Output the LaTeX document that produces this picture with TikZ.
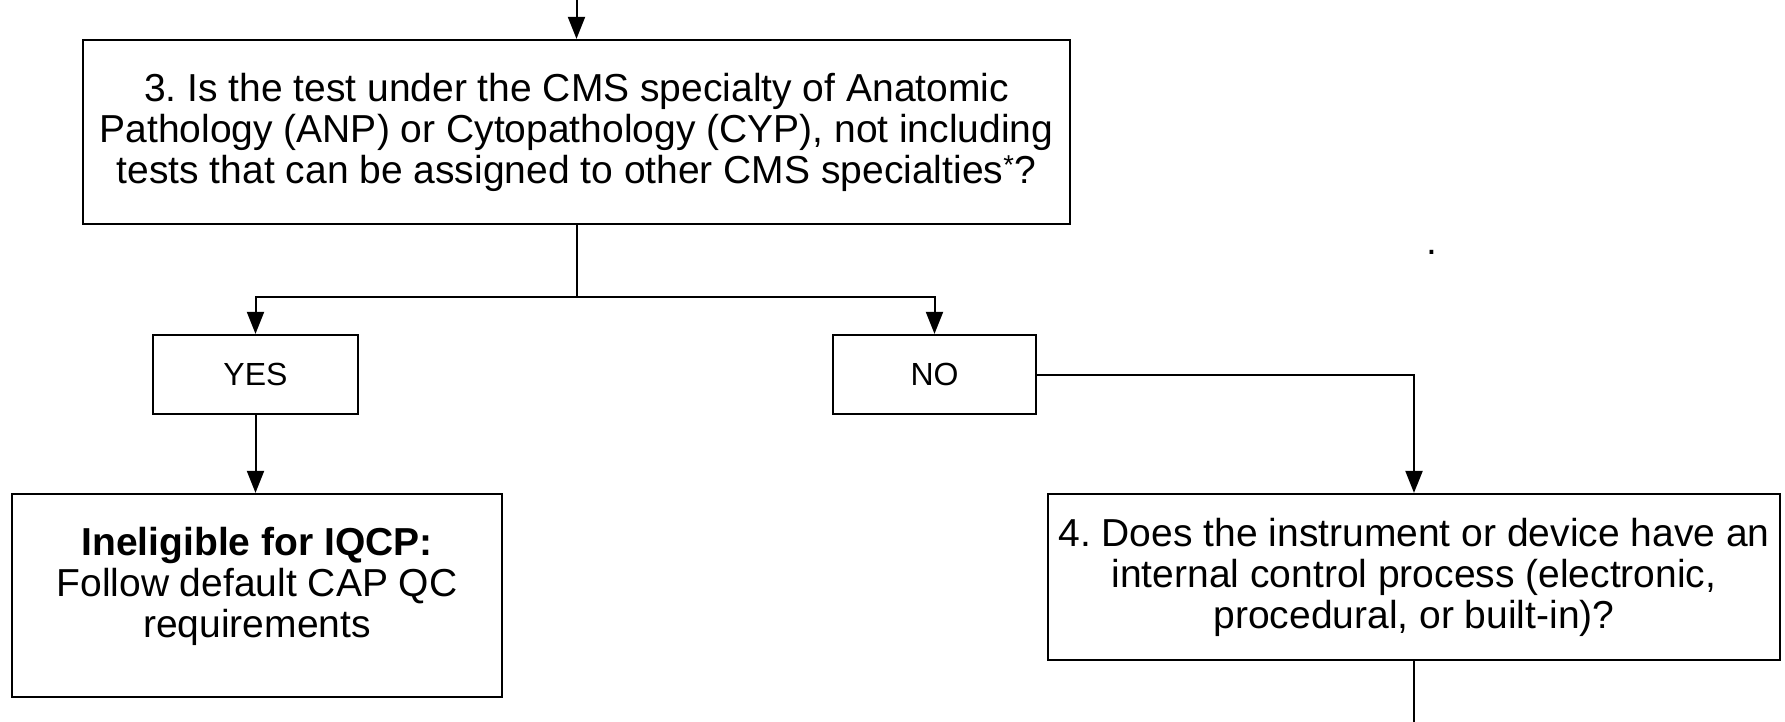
\documentclass[tikz,border=0pt]{standalone}
\usepackage{fontspec}
\setmainfont{Liberation Sans}
\frenchspacing
\usetikzlibrary{arrows.meta}
\tikzstyle{qBox} = [rectangle, draw, line width=2.2pt, align=center, inner sep=0pt, font=\fontsize{39}{41}\selectfont]
\tikzstyle{ansBox} = [rectangle, draw, line width=2.2pt, align=center, inner sep=0pt, minimum height=79pt, font=\fontsize{32}{38}\selectfont]
\tikzstyle{flow} = [line width=2pt, -{Triangle[length=22pt,width=17pt]}]
\tikzstyle{plain} = [line width=2pt]

\begin{document}
\begin{tikzpicture}[x=1pt,y=-1pt]
		\useasboundingbox (0,0) rectangle (1785,722);
		% question 3 and its answers
		\node [qBox,minimum width=987pt,minimum height=184pt](q3) at (576.5,132) {3. Is the test under the CMS specialty of Anatomic\\Pathology (ANP) or Cytopathology (CYP), not including\\tests that can be assigned to other CMS specialties\textsuperscript{*}?};
		\node [ansBox,minimum width=205pt](yes) at (255.5,374.5) {YES};
		\node [ansBox,minimum width=203pt](no) at (934.5,374.5) {NO};
		\node [qBox,minimum width=490pt,minimum height=203pt](inel) at (257,595.5) {\textbf{Ineligible for IQCP:}\\Follow default CAP QC\\requirements\rule[-27pt]{0pt}{27pt}};
		\node [qBox,minimum width=732pt,minimum height=166pt](q4) at (1414,577) {4. Does the instrument or device have an\\internal control process (electronic,\\procedural, or built-in)?};
		\node [font=\fontsize{39}{41}\selectfont,inner sep=0pt](dot) at (1432,252) {.};
		
		\coordinate (entry) at (576.5,0);
		\coordinate (exit) at (1414,722);
		
		\draw [flow] (entry) -- (q3.north);
		\draw [plain] (q3.south) -- ++(0,72) coordinate (split);
		\draw [flow] (split) -| (yes.north);
		\draw [flow] (split) -| (no.north);
		\draw [flow] (yes.south) -- (yes.south |- inel.north);
		\draw [flow] (no.east) -| (q4.north);
		\draw [plain] (q4.south) -- (exit);
		
		\end{tikzpicture}
\end{document}
